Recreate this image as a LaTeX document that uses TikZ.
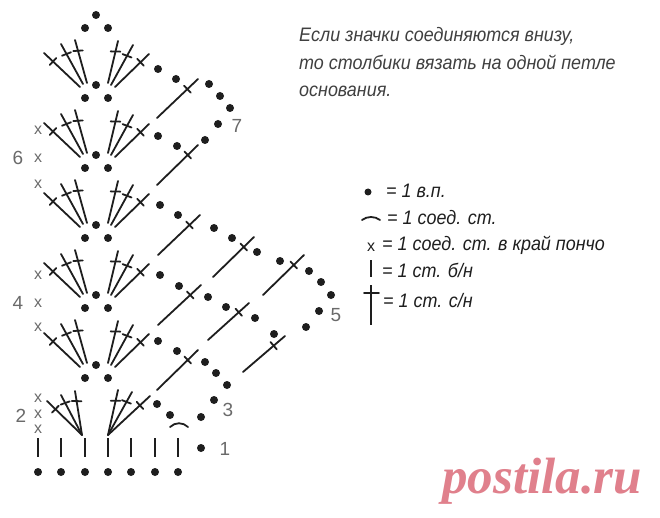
\documentclass[tikz,border=0pt]{standalone}
\usepackage{fontspec}
\setmainfont{Liberation Sans}
\newfontfamily\captfont[FakeStretch=0.92]{Liberation Sans}
\newfontfamily\markfont{Liberation Serif}
\usetikzlibrary{calc}
\definecolor{ink}{HTML}{1E1E1E}
\definecolor{graymark}{HTML}{6A6A6A}
\definecolor{wmark}{HTML}{E0808C}
\tikzset{
  stline/.style={line width=1.8pt,draw=ink,line cap=round},
  thick bar/.style={line width=2.1pt,draw=ink},
  chdot/.style={circle,fill=ink,inner sep=0pt,minimum size=8pt},
  xmark/.style={font=\fontsize{16}{16}\selectfont,text=graymark,inner sep=0pt},
  rownum/.style={font=\fontsize{19}{19}\selectfont,text=graymark,inner sep=0pt},
  capt/.style={font=\captfont\itshape\fontsize{19.5}{21}\selectfont,text=ink!85!white,anchor=base west,inner sep=0pt},
  legend/.style={font=\captfont\itshape\fontsize{19.5}{21}\selectfont,text=ink,anchor=base west,inner sep=0pt},
}
% stitch: foot, tip, position of the bar, tilt of the bar relative to a perpendicular
\newcommand{\stitch}[4]{%
  \draw[stline] (#1) -- (#2);
  \coordinate (m) at ($(#1)!#3!(#2)$);
  \draw[stline] ($(m)!4.8pt!90+#4:(#2)$) -- ($(m)!4.8pt!-90+#4:(#2)$);
}
\newcommand{\chain}[1]{\foreach \a/\b in {#1}{\node[chdot] at (\a,\b) {};}}
\newcommand{\fan}[1]{%
  \begin{scope}[shift={(0,#1)}]
    \chain{96/85, 85/98, 108/98}
    \stitch{80,87}{44,53}{.75}{0}
    \stitch{83,84}{61,44}{.75}{-8}
    \stitch{87,83}{75,40}{.75}{-12}
    \stitch{108,83}{118,41}{.75}{12}
    \stitch{111,85}{133,45}{.73}{8}
    \stitch{115,87}{149,54}{.75}{0}
  \end{scope}}
\begin{document}
\begin{tikzpicture}[x=1pt,y=-1pt]
\useasboundingbox (0,0) rectangle (660,518);
\fill[white] (0,0) rectangle (660,518);
% top
\chain{96/15, 85/28, 108/28}
\fan{0}\fan{70}\fan{140}\fan{210}\fan{280}
% bottom fan
\stitch{82,435}{47,401}{.76}{0}
\stitch{82,435}{61,395}{.8}{-8}
\stitch{82,435}{75,391}{.77}{-10}
\stitch{108,435}{118,390}{.76}{12}
\stitch{108,435}{132,392}{.77}{8}
\stitch{108,435}{150,396}{.76}{0}
% chains and stitches, row 7
\chain{158/69, 176/79, 209/84, 220/96, 230/108, 218/124, 205/140, 158/136, 177/146}
\stitch{157,118}{198,79}{.74}{0}
\stitch{157,185}{198,145}{.75}{0}
% row 5
\chain{160/205, 178/215, 214/228, 232/238, 257/252, 280/261, 309/271, 321/282, 331/295, 319/311, 306/327}
\stitch{158,255}{200,215}{.75}{0}
\stitch{213,277}{254,237}{.75}{0}
\stitch{263,295}{304,255}{.75}{0}
\chain{160/275, 179/286, 208/297, 226/307, 255/318, 274/334}
\stitch{158,325}{201,285}{.75}{0}
\stitch{208,340}{249,303}{.75}{0}
\stitch{243,372}{285,336}{.73}{0}
% row 3
\chain{158/341, 177/351, 205/362, 216/373, 227/385, 214/400, 201/417, 157/404, 170/415}
\stitch{157,390}{198,350}{.75}{0}
\draw[stline] (170,427) .. controls (175,422) and (183,422) .. (188,427);
% base
\foreach \i in {38,61,85,108,131,155,178}{
  \draw[thick bar] (\i,438) -- (\i,457);
  \node[chdot] at (\i,472) {};
}
\node[chdot] at (201,448) {};
% x marks
\foreach \y in {130,158,184,275,303,327,398,414,429}{
  \node[xmark] at (38,\y) {x};
}
% numbers
\node[rownum] (n6) at (18,158) {6};
\node[rownum] (n4) at (18,303) {4};
\node[rownum] (n2) at (21,416) {2};
\node[rownum] (n7) at (237,126) {7};
\node[rownum] (n5) at (336,315) {5};
\node[rownum] (n3) at (228,410) {3};
\node[rownum] (n1) at (225,449) {1};
% caption
\node[capt] (cap1) at (299,42) {Если значки соединяются внизу,};
\node[capt] (cap2) at (299,70) {то столбики вязать на одной петле};
\node[capt] (cap3) at (299,97) {основания.};
% legend
\node[chdot,minimum size=7pt] (l1) at (368,192) {};
\node[legend] (t1) at (386,198) {= 1 в.п.};
\draw[stline] (362,220) .. controls (367,216) and (375,216) .. (380,220);
\node[legend] (t2) at (387,225) {= 1 соед. ст.};
\node[xmark,text=ink] (l3) at (371,247) {x};
\node[legend] (t3) at (382,251) {= 1 соед. ст. в край пончо};
\draw[thick bar] (371,260) -- (371,277);
\node[legend] (t4) at (382,277) {= 1 ст. б/н};
\draw[thick bar] (371,285) -- (371,325);
\draw[stline] (364,293) -- (379,293);
\node[legend] (t5) at (383,307) {= 1 ст. с/н};
% watermark
\node[font=\markfont\bfseries\itshape\fontsize{51}{51}\selectfont,text=wmark,anchor=base west,inner sep=0pt] (wm) at (442,493) {postila.ru};
\end{tikzpicture}
\end{document}
